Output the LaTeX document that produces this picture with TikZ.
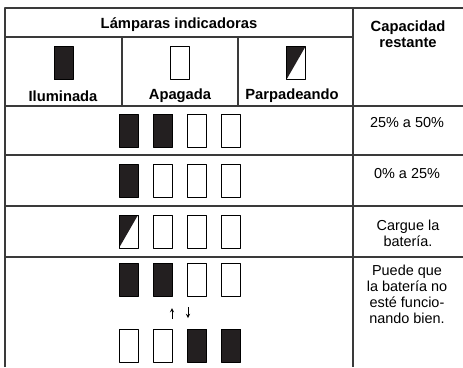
\documentclass[tikz,border=0pt]{standalone}
\usepackage{fontspec}
\setmainfont{Liberation Sans}
\begin{document}
\begin{tikzpicture}[x=1bp,y=-1bp,line join=round,>=stealth,
    lampon/.style={draw,fill=lampblack,minimum width=19bp,minimum height=33bp,inner sep=0pt,line width=0.8bp},
    lampoff/.style={lampon,fill=white},
    lampblink/.style={lampoff,path picture={\fill[lampblack] (path picture bounding box.north west) -- (path picture bounding box.north east) -- (path picture bounding box.south west) -- cycle;}},
    head/.style={font=\fontsize{14.8}{16.5}\selectfont\bfseries,inner sep=0pt},
    capa/.style={font=\fontsize{14.5}{16}\selectfont,align=center,inner sep=0pt},
    grid/.style={draw=gridgray,line width=1.1bp}]
  \definecolor{lampblack}{HTML}{231F20}
  \definecolor{gridgray}{HTML}{3A3A3A}
  \useasboundingbox (0,0) rectangle (463,367);
  \coordinate (TL) at (5,8);
  \coordinate (TR) at (463,8);
  \coordinate (BL) at (5,367);
  \draw[grid] (BL) -- (TL) -- (TR);
  \draw[grid] (353,8) -- (353,367);
  \draw[grid] (5,37) -- (353,37);
  \draw[grid] (122,37) -- (122,106);
  \draw[grid] (238,37) -- (238,106);
  \foreach \y in {106,155,206,257}
    \draw[grid] (5,\y) -- (463,\y);
  \node[head] (lamparas) at (179,25) {Lámparas indicadoras};
  \node[head,align=center] (capacidad) at (408,34) {Capacidad\\restante};
  \node[lampon] (hon) at (63.5,63) {};
  \node[lampoff] (hoff) at (180,63) {};
  \node[lampblink] (hblink) at (296,63) {};
  \node[head] (iluminada) at (63,96) {Iluminada};
  \node[head] (apagada) at (180,96) {Apagada};
  \node[head] (parpadeando) at (292,96) {Parpadeando};
  \node[lampon] (a1) at (128.5,130.5) {};
  \node[lampon] (a2) at (163,130.5) {};
  \node[lampoff] (a3) at (197,130.5) {};
  \node[lampoff] (a4) at (231,130.5) {};
  \node[capa] (ca) at (407,123) {25\% a 50\%};
  \node[lampon] (b1) at (128.5,180.5) {};
  \node[lampoff] (b2) at (163,180.5) {};
  \node[lampoff] (b3) at (197,180.5) {};
  \node[lampoff] (b4) at (231,180.5) {};
  \node[capa] (cb) at (407,174) {0\% a 25\%};
  \node[lampblink] (c1) at (128.5,231.5) {};
  \node[lampoff] (c2) at (163,231.5) {};
  \node[lampoff] (c3) at (197,231.5) {};
  \node[lampoff] (c4) at (231,231.5) {};
  \node[capa] (cc) at (408,233) {Cargue la\\batería.};
  \node[lampon] (d1) at (128.5,279.5) {};
  \node[lampon] (d2) at (163,279.5) {};
  \node[lampoff] (d3) at (197,279.5) {};
  \node[lampoff] (d4) at (231,279.5) {};
  \node[lampoff] (e1) at (128.5,345.5) {};
  \node[lampoff] (e2) at (163,345.5) {};
  \node[lampon] (e3) at (197,345.5) {};
  \node[lampon] (e4) at (231,345.5) {};
  \coordinate (up1) at (172,319);
  \coordinate (up2) at (172,308);
  \coordinate (dn1) at (188,307);
  \coordinate (dn2) at (188,318);
  \draw[->,line width=0.9bp] (up1) -- (up2);
  \draw[->,line width=0.9bp] (dn1) -- (dn2);
  \node[capa] (cd) at (407,294) {Puede que\\la batería no\\esté funcio-\\nando bien.};
\end{tikzpicture}
\end{document}
